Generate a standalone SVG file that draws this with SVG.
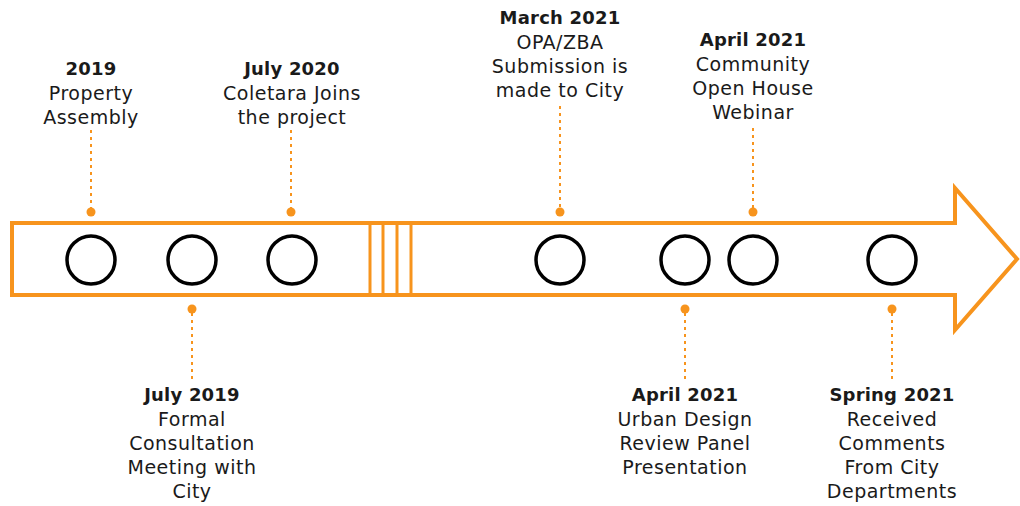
<svg xmlns="http://www.w3.org/2000/svg" width="1020" height="506" viewBox="0 0 1020 506">
<style>
.t{font-family:"DejaVu Sans","Liberation Sans",Arial,sans-serif;font-size:19px;letter-spacing:0.5px;fill:#1a1a1a;text-anchor:middle}
.b{font-weight:bold;font-size:18px;letter-spacing:0.2px}
.lead{stroke:#F7941D;stroke-width:2;stroke-dasharray:3 4;fill:none}
.dot{fill:#F7941D}
.ms{fill:none;stroke:#000;stroke-width:3.5}
.ar{fill:#fff;stroke:#F7941D;stroke-width:4;stroke-linejoin:miter}
.brk{stroke:#F7941D;stroke-width:3}
</style>
<rect width="1020" height="506" fill="#fff"/>
<g id="arrow">
<path class="ar" d="M12,223 H955 V188 L1017,259 L955,330 V295 H12 Z"/>
<line class="brk" x1="370" y1="223" x2="370" y2="295"/>
<line class="brk" x1="383" y1="223" x2="383" y2="295"/>
<line class="brk" x1="397" y1="223" x2="397" y2="295"/>
<line class="brk" x1="411" y1="223" x2="411" y2="295"/>
</g>
<g id="connectors">
<line class="lead" x1="91" y1="130" x2="91" y2="208"/>
<line class="lead" x1="291" y1="130" x2="291" y2="208"/>
<line class="lead" x1="560" y1="106" x2="560" y2="208"/>
<line class="lead" x1="753" y1="128" x2="753" y2="208"/>
<line class="lead" x1="192" y1="313" x2="192" y2="380"/>
<line class="lead" x1="685" y1="313" x2="685" y2="380"/>
<line class="lead" x1="892" y1="313" x2="892" y2="380"/>
<circle class="dot" cx="91" cy="212" r="4.5"/>
<circle class="dot" cx="291" cy="212" r="4.5"/>
<circle class="dot" cx="560" cy="212" r="4.5"/>
<circle class="dot" cx="753" cy="212" r="4.5"/>
<circle class="dot" cx="192" cy="309" r="4.5"/>
<circle class="dot" cx="685" cy="309" r="4.5"/>
<circle class="dot" cx="892" cy="309" r="4.5"/>
</g>
<g id="m1"><circle class="ms" cx="91" cy="260" r="24"/>
<text class="t"><tspan class="b" x="91" y="75">2019</tspan><tspan x="91" y="100">Property</tspan><tspan x="91" y="124">Assembly</tspan></text></g>
<g id="m2"><circle class="ms" cx="192" cy="260" r="24"/>
<text class="t"><tspan class="b" x="192" y="401">July 2019</tspan><tspan x="192" y="426">Formal</tspan><tspan x="192" y="450">Consultation</tspan><tspan x="192" y="474">Meeting with</tspan><tspan x="192" y="498">City</tspan></text></g>
<g id="m3"><circle class="ms" cx="292" cy="260" r="24"/>
<text class="t"><tspan class="b" x="292" y="75">July 2020</tspan><tspan x="292" y="100">Coletara Joins</tspan><tspan x="292" y="124">the project</tspan></text></g>
<g id="m4"><circle class="ms" cx="560" cy="260" r="24"/>
<text class="t"><tspan class="b" x="560" y="24">March 2021</tspan><tspan x="560" y="49">OPA/ZBA</tspan><tspan x="560" y="73">Submission is</tspan><tspan x="560" y="97">made to City</tspan></text></g>
<g id="m5"><circle class="ms" cx="685" cy="260" r="24"/>
<text class="t"><tspan class="b" x="685" y="401">April 2021</tspan><tspan x="685" y="426">Urban Design</tspan><tspan x="685" y="450">Review Panel</tspan><tspan x="685" y="474">Presentation</tspan></text></g>
<g id="m6"><circle class="ms" cx="753" cy="260" r="24"/>
<text class="t"><tspan class="b" x="753" y="46">April 2021</tspan><tspan x="753" y="71">Community</tspan><tspan x="753" y="95">Open House</tspan><tspan x="753" y="119">Webinar</tspan></text></g>
<g id="m7"><circle class="ms" cx="892" cy="260" r="24"/>
<text class="t"><tspan class="b" x="892" y="401">Spring 2021</tspan><tspan x="892" y="426">Received</tspan><tspan x="892" y="450">Comments</tspan><tspan x="892" y="474">From City</tspan><tspan x="892" y="498">Departments</tspan></text></g>
</svg>
